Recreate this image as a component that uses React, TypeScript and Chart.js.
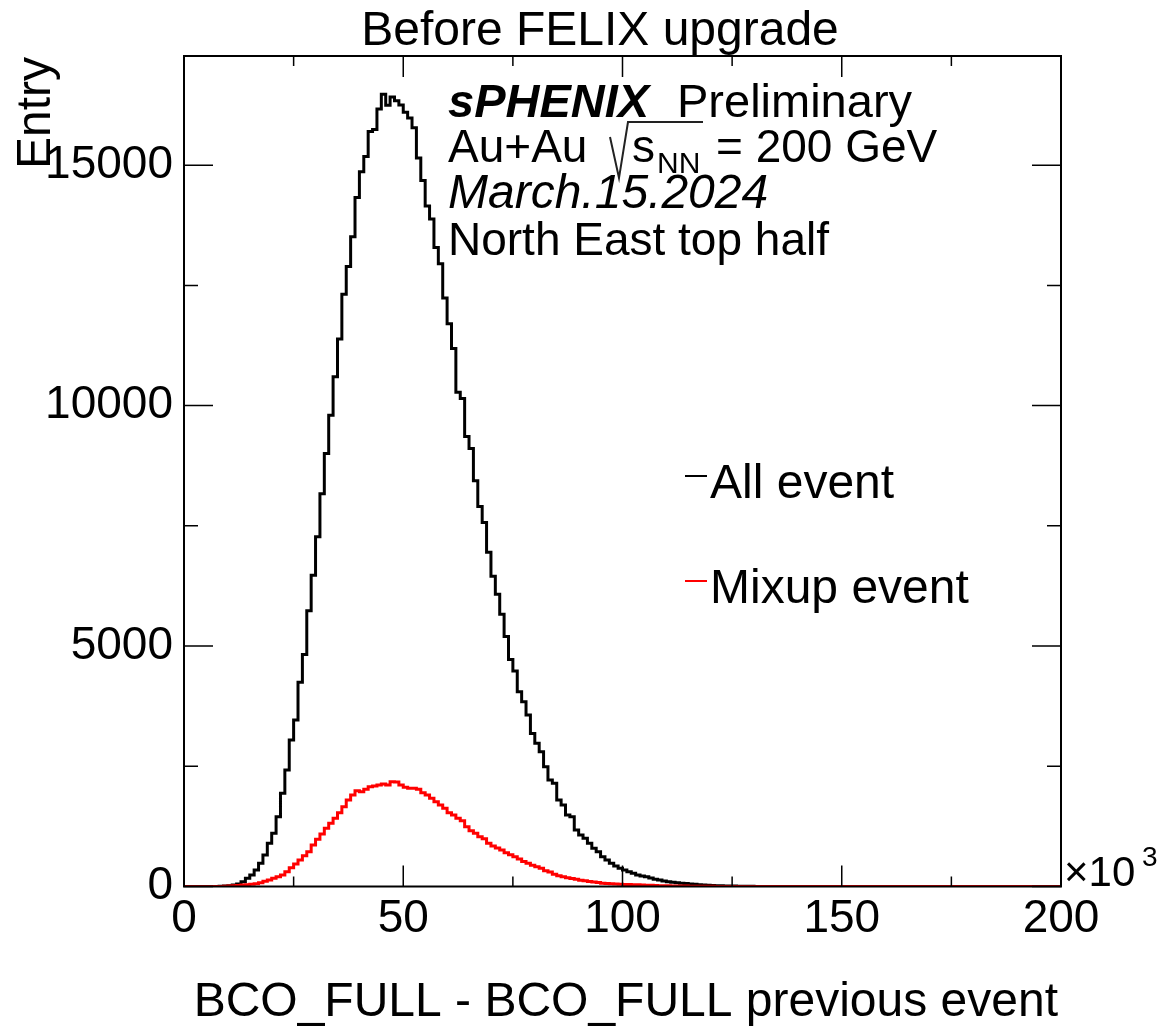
import React, { useEffect, useRef } from "react";
import { Chart, registerables } from "chart.js";

Chart.register(...registerables);

// Histogram binning: 200 bins of width 1 (x in units of 10^3 BCO counts)
const X_MIN = 0;
const BIN_WIDTH = 1;

// Entries per bin, all events
const allEvent = [
  0, 0, 0, 0, 0, 0, 1, 2, 5, 10,
  18, 30, 52, 100, 170, 239, 343, 482, 655, 898,
  1106, 1451, 1938, 2422, 3046, 3462, 4247, 4825, 5732, 6474,
  7275, 8166, 9006, 9799, 10599, 11383, 12316, 12894, 13511, 14329,
  14865, 15178, 15699, 15740, 16168, 16476, 16247, 16420, 16340, 16250,
  16100, 15980, 15780, 15150, 14680, 14150, 13880, 13290, 12950, 12240,
  11700, 11190, 10280, 10150, 9360, 9110, 8440, 7900, 7570, 6950,
  6450, 6075, 5660, 5200, 4720, 4480, 4050, 3843, 3565, 3184,
  2977, 2803, 2491, 2214, 2145, 1798, 1694, 1486, 1452, 1175,
  1071, 1002, 898, 794, 724, 620, 551, 482, 426, 378,
  343, 308, 274, 239, 218, 204, 177, 150, 135, 114,
  100, 88, 78, 68, 60, 52, 45, 38, 32, 27,
  22, 18, 15, 12, 10, 8, 6, 5, 4, 3,
  2, 2, 1, 1, 1, 0, 0, 0, 0, 0,
  0, 0, 0, 0, 0, 0, 0, 0, 0, 0,
  0, 0, 0, 0, 0, 0, 0, 0, 0, 0,
  0, 0, 0, 0, 0, 0, 0, 0, 0, 0,
  0, 0, 0, 0, 0, 0, 0, 0, 0, 0,
  0, 0, 0, 0, 0, 0, 0, 0, 0, 0,
  0, 0, 0, 0, 0, 0, 0, 0, 0, 0,
];

// Entries per bin, mixed-up events
const mixupEvent = [
  0, 0, 0, 0, 0, 0, 0, 0, 0, 5,
  10, 18, 22, 30, 38, 46, 55, 80, 107, 135,
  170, 204, 239, 308, 391, 468, 551, 641, 724, 863,
  981, 1091, 1210, 1314, 1418, 1534, 1659, 1798, 1902, 1992,
  1971, 2021, 2075, 2089, 2110, 2131, 2110, 2179, 2173, 2110,
  2062, 2042, 2042, 2021, 1950, 1902, 1834, 1763, 1694, 1626,
  1534, 1486, 1418, 1368, 1243, 1160, 1106, 1035, 994, 898,
  840, 800, 760, 700, 660, 620, 570, 520, 482, 440,
  412, 378, 330, 300, 253, 225, 204, 180, 165, 150,
  130, 121, 105, 95, 85, 70, 62, 56, 52, 48,
  44, 40, 38, 34, 30, 27, 24, 21, 18, 16,
  14, 12, 10, 9, 8, 7, 6, 5, 4, 3,
  3, 2, 2, 1, 1, 0, 0, 0, 0, 0,
  0, 0, 0, 0, 0, 0, 0, 0, 0, 0,
  0, 0, 0, 0, 0, 0, 0, 0, 0, 0,
  0, 0, 0, 0, 0, 0, 0, 0, 0, 0,
  0, 0, 0, 0, 0, 0, 0, 0, 0, 0,
  0, 0, 0, 0, 0, 0, 0, 0, 0, 0,
  0, 0, 0, 0, 0, 0, 0, 0, 0, 0,
  0, 0, 0, 0, 0, 0, 0, 0, 0, 0,
];

const seriesLabels = ["All event", "Mixup event"];
const seriesColors = ["#000000", "#ff0000"];

// Axis ranges and ticks
const xRange = [0, 200];
const yRange = [0, 17270];
const xMajorTicks = [0, 50, 100, 150, 200];
const xMinorTicks = [25, 75, 125, 175];
const yMajorTicks = [0, 5000, 10000, 15000];
const yMinorTicks = [2500, 7500, 12500];

const titleText = "Before FELIX upgrade";
const xTitle = "BCO_FULL - BCO_FULL previous event";
const yTitle = "Entry";
const infoLines = ["Preliminary", "Au+Au", "= 200 GeV", "March.15.2024", "North East top half"];

const FONT = "'Liberation Sans', Arial, Helvetica, sans-serif";

// Convert bin contents to step-line points on bin low edges (+ closing edge)
function toSteps(values: number[]) {
  const pts = values.map((v, i) => ({ x: X_MIN + i * BIN_WIDTH, y: v }));
  pts.push({ x: X_MIN + values.length * BIN_WIDTH, y: values[values.length - 1] });
  return pts;
}

const rootStylePlugin = {
  id: "rootStyle",
  afterDatasetsDraw(chart: any) {
    const { ctx, chartArea } = chart;
    const { left, right, top, bottom } = chartArea;
    const xs = chart.scales.x;
    const ys = chart.scales.y;
    ctx.save();

    // frame
    ctx.strokeStyle = "#000";
    ctx.lineWidth = 2;
    ctx.strokeRect(left, top, right - left, bottom - top);

    // inward ticks on all four sides
    ctx.lineWidth = 1.5;
    ctx.beginPath();
    const xTick = (v: number, len: number) => {
      const px = xs.getPixelForValue(v);
      ctx.moveTo(px, bottom);
      ctx.lineTo(px, bottom - len);
      ctx.moveTo(px, top);
      ctx.lineTo(px, top + len);
    };
    const yTick = (v: number, len: number) => {
      const py = ys.getPixelForValue(v);
      ctx.moveTo(left, py);
      ctx.lineTo(left + len, py);
      ctx.moveTo(right, py);
      ctx.lineTo(right - len, py);
    };
    xMajorTicks.forEach((v) => xTick(v, 21));
    xMinorTicks.forEach((v) => xTick(v, 10));
    yMajorTicks.forEach((v) => yTick(v, 29));
    yMinorTicks.forEach((v) => yTick(v, 14));
    ctx.stroke();

    ctx.fillStyle = "#000";
    ctx.textBaseline = "alphabetic";

    // title
    ctx.font = `48px ${FONT}`;
    ctx.textAlign = "center";
    ctx.fillText(titleText, 600, 45);

    // x axis title (right aligned to frame)
    ctx.textAlign = "right";
    ctx.font = `48px ${FONT}`;
    ctx.fillText(xTitle, right - 3, 1016);

    // x10^3 exponent
    ctx.textAlign = "left";
    ctx.font = `42px ${FONT}`;
    ctx.fillText("\u00d710", right + 3, 886);
    ctx.font = `28px ${FONT}`;
    ctx.fillText("3", right + 81, 866);

    // y axis title (rotated, aligned to top of frame)
    ctx.save();
    ctx.translate(50, top + 1);
    ctx.rotate(-Math.PI / 2);
    ctx.textAlign = "right";
    ctx.font = `48px ${FONT}`;
    ctx.fillText(yTitle, 0, 0);
    ctx.restore();

    // info block
    const tx = 448;
    ctx.textAlign = "left";
    ctx.font = `italic bold 47px ${FONT}`;
    ctx.fillText("sPHENIX", tx, 117);
    ctx.font = `47px ${FONT}`;
    ctx.fillText(infoLines[0], 677, 117);

    ctx.font = `46px ${FONT}`;
    ctx.fillText(infoLines[1], tx, 162);
    // sqrt(s_NN)
    ctx.strokeStyle = "#222";
    ctx.lineWidth = 2;
    ctx.beginPath();
    ctx.moveTo(610, 137);
    ctx.lineTo(619, 178);
    ctx.lineTo(628, 122);
    ctx.lineTo(703, 122);
    ctx.stroke();
    ctx.fillText("s", 632, 162);
    ctx.font = `30px ${FONT}`;
    ctx.fillText("NN", 657, 173);
    ctx.font = `46px ${FONT}`;
    ctx.fillText(infoLines[2], 716, 162);

    ctx.font = `italic 48px ${FONT}`;
    ctx.fillText(infoLines[3], tx, 208);
    ctx.font = `46px ${FONT}`;
    ctx.fillText(infoLines[4], tx, 255);

    // legend
    const legendRows = [476, 581];
    chart.data.datasets.forEach((ds: any, i: number) => {
      const y = legendRows[i];
      ctx.strokeStyle = ds.borderColor;
      ctx.lineWidth = 2;
      ctx.beginPath();
      ctx.moveTo(685, y);
      ctx.lineTo(707, y);
      ctx.stroke();
      ctx.fillStyle = "#000";
      ctx.font = `48px ${FONT}`;
      ctx.fillText(ds.label, 710, y + 22);
    });

    ctx.restore();
  },
};

export default function App() {
  const canvasRef = useRef<HTMLCanvasElement | null>(null);

  useEffect(() => {
    if (!canvasRef.current) return;
    const chart = new Chart(canvasRef.current, {
      type: "line",
      data: {
        datasets: [
          {
            label: seriesLabels[0],
            data: toSteps(allEvent),
            borderColor: seriesColors[0],
            borderWidth: 3,
            stepped: "before",
            pointRadius: 0,
            fill: false,
            order: 1,
          },
          {
            label: seriesLabels[1],
            data: toSteps(mixupEvent),
            borderColor: seriesColors[1],
            borderWidth: 3,
            stepped: "before",
            pointRadius: 0,
            fill: false,
            order: 0,
          },
        ],
      },
      options: {
        responsive: false,
        maintainAspectRatio: false,
        devicePixelRatio: 1,
        animation: false,
        events: [],
        layout: { padding: { left: 0, right: 104, top: 56, bottom: 0 } },
        plugins: {
          legend: { display: false },
          tooltip: { enabled: false },
          title: { display: false },
        },
        scales: {
          x: {
            type: "linear",
            min: xRange[0],
            max: xRange[1],
            grid: { display: false, drawTicks: false },
            border: { display: false },
            afterFit: (s: any) => {
              s.height = 140.5;
            },
            afterBuildTicks: (s: any) => {
              s.ticks = xMajorTicks.map((v) => ({ value: v }));
            },
            ticks: {
              padding: 5,
              maxRotation: 0,
              autoSkip: false,
              color: "#000",
              font: { family: FONT, size: 46 },
              callback: (v: any) => String(v),
            },
          },
          y: {
            type: "linear",
            min: yRange[0],
            max: yRange[1],
            grid: { display: false, drawTicks: false },
            border: { display: false },
            afterFit: (s: any) => {
              s.width = 184;
            },
            afterBuildTicks: (s: any) => {
              s.ticks = yMajorTicks.map((v) => ({ value: v }));
            },
            ticks: {
              padding: 11,
              autoSkip: false,
              color: "#000",
              font: { family: FONT, size: 46 },
              callback: (v: any) => String(v),
            },
          },
        },
      },
      plugins: [rootStylePlugin],
    } as any);
    return () => chart.destroy();
  }, []);

  return (
    <div style={{ position: "absolute", left: 0, top: 0, width: 1165, height: 1027, background: "#fff" }}>
      <canvas ref={canvasRef} width={1165} height={1027} style={{ display: "block" }} />
    </div>
  );
}
